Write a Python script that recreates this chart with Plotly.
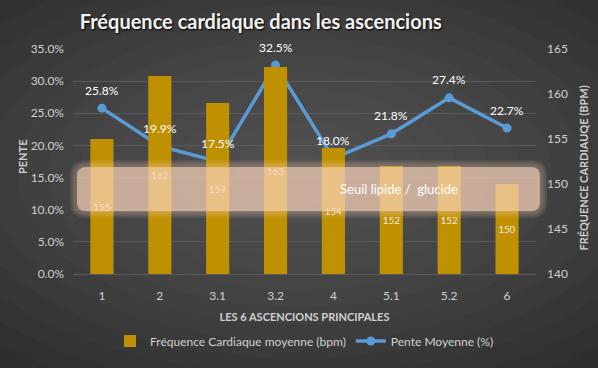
import plotly.graph_objects as go

categories = ["1", "2", "3.1", "3.2", "4", "5.1", "5.2", "6"]
bpm = [155, 162, 159, 163, 154, 152, 152, 150]
pente = [0.258, 0.199, 0.175, 0.325, 0.180, 0.218, 0.274, 0.227]
bpm_base = 140

FONT = "Lato"
TICK = "#d0d0d0"

fig = go.Figure()

fig.add_trace(go.Bar(
    x=categories, y=[b - bpm_base for b in bpm], base=bpm_base,
    yaxis="y2", name="Fréquence Cardiaque moyenne (bpm)",
    marker=dict(color="#BF9000", line=dict(width=0)),
    width=0.4, text=[str(b) for b in bpm], textposition="inside",
    insidetextanchor="middle", textangle=0,
    textfont=dict(color="#ececec", size=11, family=FONT),
))

fig.add_trace(go.Scatter(
    x=categories, y=pente, yaxis="y", name="Pente Moyenne (%)",
    mode="lines+markers",
    line=dict(color="#5B9BD5", width=3.5),
    marker=dict(color="#5B9BD5", size=9),
))

shapes = []
# background radial-ish gradient
for i in range(14):
    r = 1 - i / 14
    shapes.append(dict(
        type="circle", xref="paper", yref="paper", layer="below",
        x0=0.49 - 0.95 * r, x1=0.49 + 0.95 * r,
        y0=0.45 - 1.05 * r, y1=0.45 + 1.05 * r,
        fillcolor="rgba(255,255,255,0.014)", line=dict(width=0),
    ))

def rrect(x0, x1, y0, y1, rpx, pw=463.0, ph=233.0):
    rx = rpx / pw
    ry = rpx / ph
    return (f"M {x0+rx},{y0} L {x1-rx},{y0} Q {x1},{y0} {x1},{y0+ry} "
            f"L {x1},{y1-ry} Q {x1},{y1} {x1-rx},{y1} L {x0+rx},{y1} "
            f"Q {x0},{y1} {x0},{y1-ry} L {x0},{y0+ry} Q {x0},{y0} {x0+rx},{y0} Z")

bx0, bx1, by0, by1 = 0.0086, 1.0086, 0.279, 0.476
for g in [7, 5, 3]:
    dx = g / 463.0
    dy = g / 233.0
    shapes.append(dict(
        type="path", xref="paper", yref="paper", layer="above",
        path=rrect(bx0 - dx, bx1 + dx, by0 - dy, by1 + dy, 9 + g),
        fillcolor="rgba(245,205,175,0.10)", line=dict(width=0),
    ))
shapes.append(dict(
    type="path", xref="paper", yref="paper", layer="above",
    path=rrect(bx0, bx1, by0, by1, 9),
    fillcolor="rgba(250,212,188,0.62)", line=dict(width=0),
))

annotations = [
    dict(text=f"{p*100:.1f}%", x=i, y=p, xref="x", yref="y",
         yshift=18, showarrow=False,
         font=dict(color="#ffffff", size=12, family=FONT))
    for i, p in enumerate(pente)
] + [
    dict(text="Seuil lipide /  glucide", xref="paper", yref="paper",
         x=0.835, y=0.378, showarrow=False,
         font=dict(color="#ffffff", size=13, family=FONT)),
    dict(text="<b>PENTE</b>", xref="paper", yref="paper",
         x=-0.11, y=0.52, xanchor="center", textangle=-90, showarrow=False,
         font=dict(color=TICK, size=11, family=FONT)),
    dict(text="<b>FRÉQUENCE CARDIAUQE (BPM)</b>", xref="paper", yref="paper",
         x=1.102, y=0.47, xanchor="center", textangle=-90, showarrow=False,
         font=dict(color=TICK, size=11, family=FONT)),
]

fig.update_layout(
    width=598, height=368,
    margin=dict(l=73, r=62, t=49, b=86),
    paper_bgcolor="#2e2e2e", plot_bgcolor="rgba(0,0,0,0)",
    title=dict(text="<b>Fréquence cardiaque dans les ascencions</b>",
               x=0.436, xref="container", xanchor="center",
               y=0.94, yref="container", yanchor="middle",
               font=dict(color="#f2f2f2", size=20, family=FONT,
                         shadow="1px 1px 2px #000")),
    font=dict(family=FONT, color=TICK, size=11),
    xaxis=dict(
        type="category", range=[-0.5, 7.5], showgrid=False,
        showline=True, linecolor="#595959", linewidth=1,
        ticks="", tickfont=dict(color=TICK, size=12), ticklabelstandoff=11,
        title=dict(text="<b>LES 6 ASCENCIONS PRINCIPALES</b>", standoff=10,
                   font=dict(color=TICK, size=11)),
    ),
    yaxis=dict(
        range=[0, 0.35], dtick=0.05, tickformat=".1%",
        showgrid=True, gridcolor="#5a5a5a", gridwidth=1,
        zeroline=False, ticks="", ticklabelstandoff=8,
        tickfont=dict(color=TICK, size=12),
    ),
    yaxis2=dict(
        range=[140, 165], dtick=5, overlaying="y", side="right",
        showgrid=False, zeroline=False, ticks="", ticklabelstandoff=10,
        tickfont=dict(color=TICK, size=12),
    ),
    legend=dict(orientation="h", x=0.5, xanchor="center", y=-0.298,
                yanchor="middle", font=dict(color=TICK, size=12, family=FONT),
                bgcolor="rgba(0,0,0,0)", itemwidth=30,
                traceorder="normal"),
    shapes=shapes, annotations=annotations,
    showlegend=True, bargap=0.6,
)

fig.write_html("out.html", config={"displayModeBar": False},
               post_script="document.body.style.margin='0';document.body.style.padding='0';document.body.style.overflow='hidden';")
